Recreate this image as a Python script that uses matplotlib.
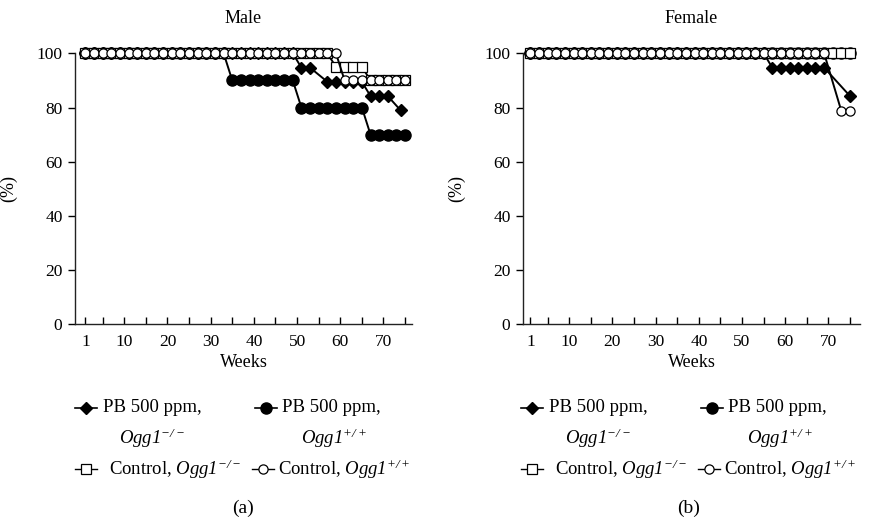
import matplotlib
matplotlib.use("Agg")
import matplotlib.pyplot as plt
from matplotlib.lines import Line2D
import numpy as np

plt.rcParams['font.family'] = ['Liberation Serif', 'DejaVu Serif']
plt.rcParams['mathtext.fontset'] = 'custom'
plt.rcParams['mathtext.rm'] = 'Liberation Serif:italic'
plt.rcParams['mathtext.it'] = 'Liberation Serif:italic'

# ---------------- data ----------------
# Male
male_pb_ko_weeks = list(range(1, 50, 2)) + [51, 53] + [57, 59, 61, 63, 65] + [67, 69, 71] + [74]
male_pb_ko_vals = [100]*25 + [94.7]*2 + [89.5]*5 + [84.2]*3 + [78.9]
male_pb_wt_weeks = list(range(1, 76, 2))
male_pb_wt_vals = [100]*17 + [90]*8 + [80]*8 + [70]*5
male_ct_ko_weeks = list(range(1, 76, 2))
male_ct_ko_vals = [100]*29 + [95]*4 + [90]*5
male_ct_wt_weeks = list(range(1, 76, 2))
male_ct_wt_vals = [100]*30 + [90]*8

# Female
female_pb_ko_weeks = list(range(1, 56, 2)) + list(range(57, 70, 2)) + [75]
female_pb_ko_vals = [100]*28 + [94.7]*7 + [84.2]
female_pb_wt_weeks = list(range(1, 76, 2))
female_pb_wt_vals = [100]*38
female_ct_ko_weeks = list(range(1, 76, 2))
female_ct_ko_vals = [100]*38
female_ct_wt_weeks = list(range(1, 70, 2)) + [73, 75]
female_ct_wt_vals = [100]*35 + [78.6]*2

x_tick_pos = [1, 10, 20, 30, 40, 50, 60, 70]
x_tick_labels = ["1", "10", "20", "30", "40", "50", "60", "70"]
x_minor = [5, 15, 25, 35, 45, 55, 65, 75]
y_ticks = [0, 20, 40, 60, 80, 100]

titles = ["Male", "Female"]
panel_labels = ["(a)", "(b)"]

# ---------------- styles ----------------
sty = {
    'pb_ko': dict(marker='D', ms=6.2, mfc='black', mec='black'),
    'pb_wt': dict(marker='o', ms=8.0, mfc='black', mec='black'),
    'ct_ko': dict(marker='s', ms=7.0, mfc='white', mec='black', mew=0.9),
    'ct_wt': dict(marker='o', ms=6.6, mfc='white', mec='black', mew=0.9),
}

W, H = 873, 521
fig = plt.figure(figsize=(W/100, H/100), dpi=100)

def px_ax(left, top, right, bottom):
    return fig.add_axes([left/W, 1-bottom/H, (right-left)/W, (bottom-top)/H])

ax_m = px_ax(75, 53.3, 412, 324.3)
ax_f = px_ax(523, 53.3, 860, 324.3)

series = [
    [(male_pb_ko_weeks, male_pb_ko_vals, 'pb_ko'),
     (male_pb_wt_weeks, male_pb_wt_vals, 'pb_wt'),
     (male_ct_ko_weeks, male_ct_ko_vals, 'ct_ko'),
     (male_ct_wt_weeks, male_ct_wt_vals, 'ct_wt')],
    [(female_pb_ko_weeks, female_pb_ko_vals, 'pb_ko'),
     (female_pb_wt_weeks, female_pb_wt_vals, 'pb_wt'),
     (female_ct_ko_weeks, female_ct_ko_vals, 'ct_ko'),
     (female_ct_wt_weeks, female_ct_wt_vals, 'ct_wt')],
]
xlims = [(-1.4, 76.6), (-0.7, 77.3)]

for ax, ser, title, xl in zip([ax_m, ax_f], series, titles, xlims):
    for z, (xs, ys, key) in enumerate(ser):
        ax.plot(xs, ys, color='black', lw=1.4, clip_on=False, zorder=3+z, **sty[key])
    ax.set_xlim(*xl)
    ax.set_ylim(0, 100)
    for s in ['top', 'right']:
        ax.spines[s].set_visible(False)
    for s in ['left', 'bottom']:
        ax.spines[s].set_linewidth(1.0)
        ax.spines[s].set_color('#222222')
    ax.set_xticks(x_tick_pos)
    ax.set_xticklabels(x_tick_labels)
    ax.set_xticks(x_minor, minor=True)
    ax.set_yticks(y_ticks)
    ax.tick_params(axis='x', which='both', direction='in', length=5, width=1.0, pad=7, labelsize=12.5)
    ax.tick_params(axis='y', direction='out', length=5, width=1.0, pad=4, labelsize=12.5)
    ax.set_xlabel("Weeks", fontsize=13, labelpad=3)
    ax.set_ylabel("(%)", fontsize=13, labelpad=14)
    ax.set_title(title, fontsize=13, pad=22)

# ---------------- legends ----------------
leg_fs = 13.5
def legend_block(x0, label):
    entries = [
        (x0 + 11, x0 + 28, 408, 'pb_ko', "PB 500 ppm,", r"$Ogg1^{-/-}$", x0 + 77),
        (x0 + 191, x0 + 207, 408, 'pb_wt', "PB 500 ppm,", r"$Ogg1^{+/+}$", x0 + 259),
    ]
    for mx, tx, ry, key, l1, l2, cx in entries:
        fig.add_artist(Line2D([(mx-11)/W, (mx+11)/W], [1-ry/H, 1-ry/H], color='black', lw=1.2,
                              transform=fig.transFigure))
        fig.add_artist(Line2D([mx/W], [1-ry/H], color='black', transform=fig.transFigure, **sty[key]))
        fig.text(tx/W, 1-ry/H, l1, fontsize=leg_fs, va='center', ha='left')
        fig.text(cx/W, 1-438/H, l2, fontsize=leg_fs, va='center', ha='center')
    rows3 = [
        (x0 + 11, x0 + 34, 'ct_ko', r"Control, $Ogg1^{-/-}$"),
        (x0 + 188, x0 + 203, 'ct_wt', r"Control, $Ogg1^{+/+}$"),
    ]
    for mx, tx, key, txt in rows3:
        ry = 469
        fig.add_artist(Line2D([(mx-11)/W, (mx+11)/W], [1-ry/H, 1-ry/H], color='black', lw=1.0,
                              transform=fig.transFigure))
        fig.add_artist(Line2D([mx/W], [1-ry/H], color='black', transform=fig.transFigure, **sty[key]))
        fig.text(tx/W, 1-ry/H, txt, fontsize=leg_fs, va='center', ha='left')
    fig.text((x0 + 168)/W, 1-508/H, label, fontsize=14, va='center', ha='center')

legend_block(75, panel_labels[0])
legend_block(521, panel_labels[1])

fig.savefig("out.png", dpi=100)
